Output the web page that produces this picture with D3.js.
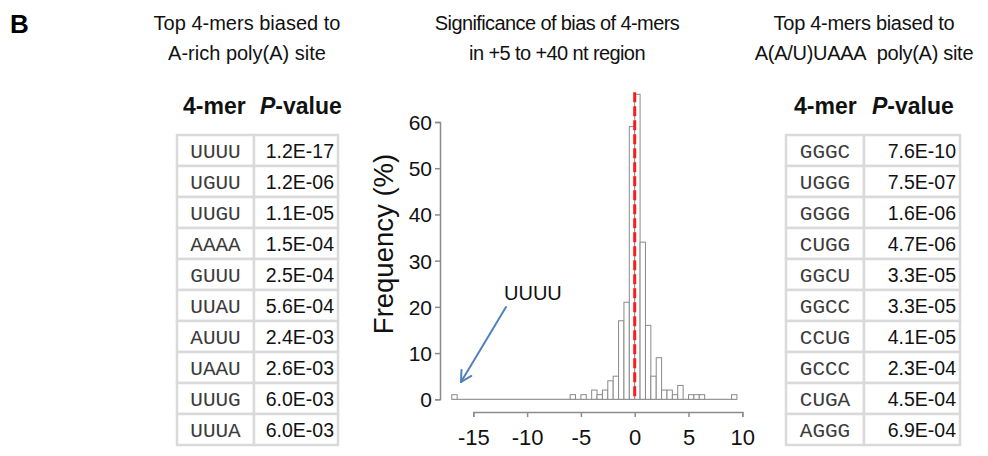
<!DOCTYPE html>
<html>
<head>
<meta charset="utf-8">
<script src="https://cdn.jsdelivr.net/npm/d3@7"></script>
<style>
  body { margin: 0; background: #fff; }
  svg { display: block; font-family: Arial, "Liberation Sans", sans-serif; }
</style>
</head>
<body>
<div id="chart"></div>
<script>
// Histogram of bias scores of all 256 4-mers (bin width 0.5, lower edge of each non-empty bin)
const binStarts = [-17, -6, -5, -4, -3.5, -3, -2.5, -2, -1.5, -1, -0.5, 0, 0.5, 1, 1.5, 2, 2.5, 3, 3.5, 4, 5, 5.5, 6, 9];
const binCounts = [1, 1, 1, 2, 1, 2, 4, 5, 17, 21, 59, 66, 34, 16, 5, 9, 2, 2, 1, 3, 1, 1, 1, 1];
const binWidth = 0.5;
const histRange = [-17, 9.5];

const xTicks = [-15, -10, -5, 0, 5, 10];
const yTicks = [0, 10, 20, 30, 40, 50, 60];

// Tables
const leftMers = ['UUUU', 'UGUU', 'UUGU', 'AAAA', 'GUUU', 'UUAU', 'AUUU', 'UAAU', 'UUUG', 'UUUA'];
const leftPvals = ['1.2E-17', '1.2E-06', '1.1E-05', '1.5E-04', '2.5E-04', '5.6E-04', '2.4E-03', '2.6E-03', '6.0E-03', '6.0E-03'];
const rightMers = ['GGGC', 'UGGG', 'GGGG', 'CUGG', 'GGCU', 'GGCC', 'CCUG', 'GCCC', 'CUGA', 'AGGG'];
const rightPvals = ['7.6E-10', '7.5E-07', '1.6E-06', '4.7E-06', '3.3E-05', '3.3E-05', '4.1E-05', '2.3E-04', '4.5E-04', '6.9E-04'];

const W = 988, H = 456;
const svg = d3.select('#chart').append('svg')
    .attr('width', W)
    .attr('height', H);

svg.append('rect').attr('width', W).attr('height', H).attr('fill', '#fff');

// Panel letter
svg.append('text')
    .attr('x', 10).attr('y', 33)
    .attr('font-size', 26).attr('font-weight', 'bold')
    .text('B');

// Titles
function title(cx, lines, spacing) {
    const t = svg.append('text')
        .attr('text-anchor', 'middle')
        .attr('font-size', 20)
        .attr('fill', '#111')
        .attr('letter-spacing', spacing || 0);
    lines.forEach((l, i) => {
        t.append('tspan').attr('x', cx).attr('y', 30 + i * 30).text(l);
    });
}
title(247, ['Top 4-mers biased to', 'A-rich poly(A) site']);
title(557, ['Significance of bias of 4-mers', 'in +5 to +40 nt region'], -0.6);
title(864, ['Top 4-mers biased to', 'A(A/U)UAAA\u00a0 poly(A) site'], -0.3);

// ---------- Histogram ----------
const x = d3.scaleLinear().domain([-15, 10]).range([473.3, 742.3]);
const y = d3.scaleLinear().domain([0, 60]).range([399.3, 122]);
const axisColor = '#8c8c8c';

// y axis
const yAxis = svg.append('g')
    .attr('transform', 'translate(440,0)')
    .call(d3.axisLeft(y).tickValues(yTicks).tickSize(5).tickPadding(3));
// x axis
const xAxis = svg.append('g')
    .attr('transform', 'translate(0,412)')
    .call(d3.axisBottom(x).tickValues(xTicks).tickSize(5).tickPadding(12)
        .tickFormat(d3.format('d')));

[yAxis, xAxis].forEach(a => {
    a.select('.domain').attr('stroke', axisColor).attr('stroke-width', 1.5);
    a.selectAll('.tick line').attr('stroke', axisColor).attr('stroke-width', 1.5);
    a.selectAll('.tick text')
        .attr('fill', '#111')
        .attr('font-family', 'Arial, "Liberation Sans", sans-serif');
});
yAxis.selectAll('.tick text').attr('font-size', 21).attr('dy', '0.36em');
xAxis.selectAll('.tick text').attr('font-size', 22).attr('dy', '0.71em');
// plain hyphen instead of the unicode minus
xAxis.selectAll('.tick text').text(d => String(d));

svg.append('text')
    .attr('transform', 'translate(393,244) rotate(-90)')
    .attr('text-anchor', 'middle')
    .attr('font-size', 27.5)
    .attr('fill', '#111')
    .text('Frequency (%)');

// baseline for empty bins
svg.append('line')
    .attr('x1', x(histRange[0])).attr('x2', x(histRange[1]))
    .attr('y1', y(0)).attr('y2', y(0))
    .attr('stroke', '#999').attr('stroke-width', 1.2);

svg.append('g').selectAll('rect')
    .data(binStarts.map((s, i) => ({ s, c: binCounts[i] })))
    .enter()
    .append('rect')
    .attr('x', d => x(d.s))
    .attr('y', d => y(d.c))
    .attr('width', d => x(d.s + binWidth) - x(d.s))
    .attr('height', d => y(0) - y(d.c))
    .attr('fill', '#fff')
    .attr('stroke', '#8a8a8a')
    .attr('stroke-width', 1);

// red dashed line at zero
svg.append('line')
    .attr('x1', x(0)).attr('x2', x(0))
    .attr('y1', y(0) - 3).attr('y2', y(66.5))
    .attr('stroke', '#ff1a1a')
    .attr('stroke-width', 3)
    .attr('stroke-dasharray', '10,4');

// UUUU annotation
svg.append('text')
    .attr('x', 504).attr('y', 300)
    .attr('font-size', 20)
    .attr('fill', '#111')
    .text('UUUU');
const ax0 = 506, ay0 = 307, ax1 = 461, ay1 = 382;
const ang = Math.atan2(ay1 - ay0, ax1 - ax0);
const arrow = svg.append('g')
    .attr('stroke', '#4f81bd')
    .attr('stroke-width', 2)
    .attr('fill', 'none')
    .attr('stroke-linecap', 'round');
arrow.append('line').attr('x1', ax0).attr('y1', ay0).attr('x2', ax1).attr('y2', ay1);
[-0.5, 0.5].forEach(da => {
    arrow.append('line')
        .attr('x1', ax1).attr('y1', ay1)
        .attr('x2', ax1 - 12 * Math.cos(ang + da))
        .attr('y2', ay1 - 12 * Math.sin(ang + da));
});

// ---------- Tables ----------
function drawTable(x0, xDiv, x1, valueRight, mers, pvals, hdr) {
    const top = 135, rowH = 31;
    const g = svg.append('g');
    const rows = g.selectAll('g.row')
        .data(mers.map((m, i) => ({ m, p: pvals[i] })))
        .enter()
        .append('g')
        .attr('class', 'row')
        .attr('transform', (d, i) => `translate(0,${top + i * rowH})`);
    rows.append('rect')
        .attr('x', x0).attr('width', xDiv - x0).attr('height', rowH)
        .attr('fill', '#fff').attr('stroke', '#dadada').attr('stroke-width', 2.5);
    rows.append('rect')
        .attr('x', xDiv).attr('width', x1 - xDiv).attr('height', rowH)
        .attr('fill', '#fff').attr('stroke', '#dadada').attr('stroke-width', 2.5);
    rows.append('text')
        .attr('x', (x0 + xDiv) / 2).attr('y', rowH / 2)
        .attr('dy', '0.36em')
        .attr('text-anchor', 'middle')
        .attr('font-family', '"Courier New", "Liberation Mono", monospace')
        .attr('font-size', 21)
        .attr('fill', '#3c3c3c')
        .text(d => d.m);
    rows.append('text')
        .attr('x', valueRight).attr('y', rowH / 2)
        .attr('dy', '0.36em')
        .attr('text-anchor', 'end')
        .attr('font-size', 19.5)
        .attr('fill', '#111')
        .text(d => d.p);

    const h = svg.append('text')
        .attr('y', 114)
        .attr('font-size', 23)
        .attr('font-weight', 'bold')
        .attr('fill', '#111');
    h.append('tspan').attr('x', hdr[0]).text('4-mer');
    h.append('tspan').attr('x', hdr[1]).attr('font-style', 'italic').text('P');
    h.append('tspan').text('-value');
}
drawTable(177, 254, 338, 334, leftMers, leftPvals, [183, 260]);
drawTable(786, 864, 960, 956, rightMers, rightPvals, [794, 872]);
</script>
</body>
</html>
